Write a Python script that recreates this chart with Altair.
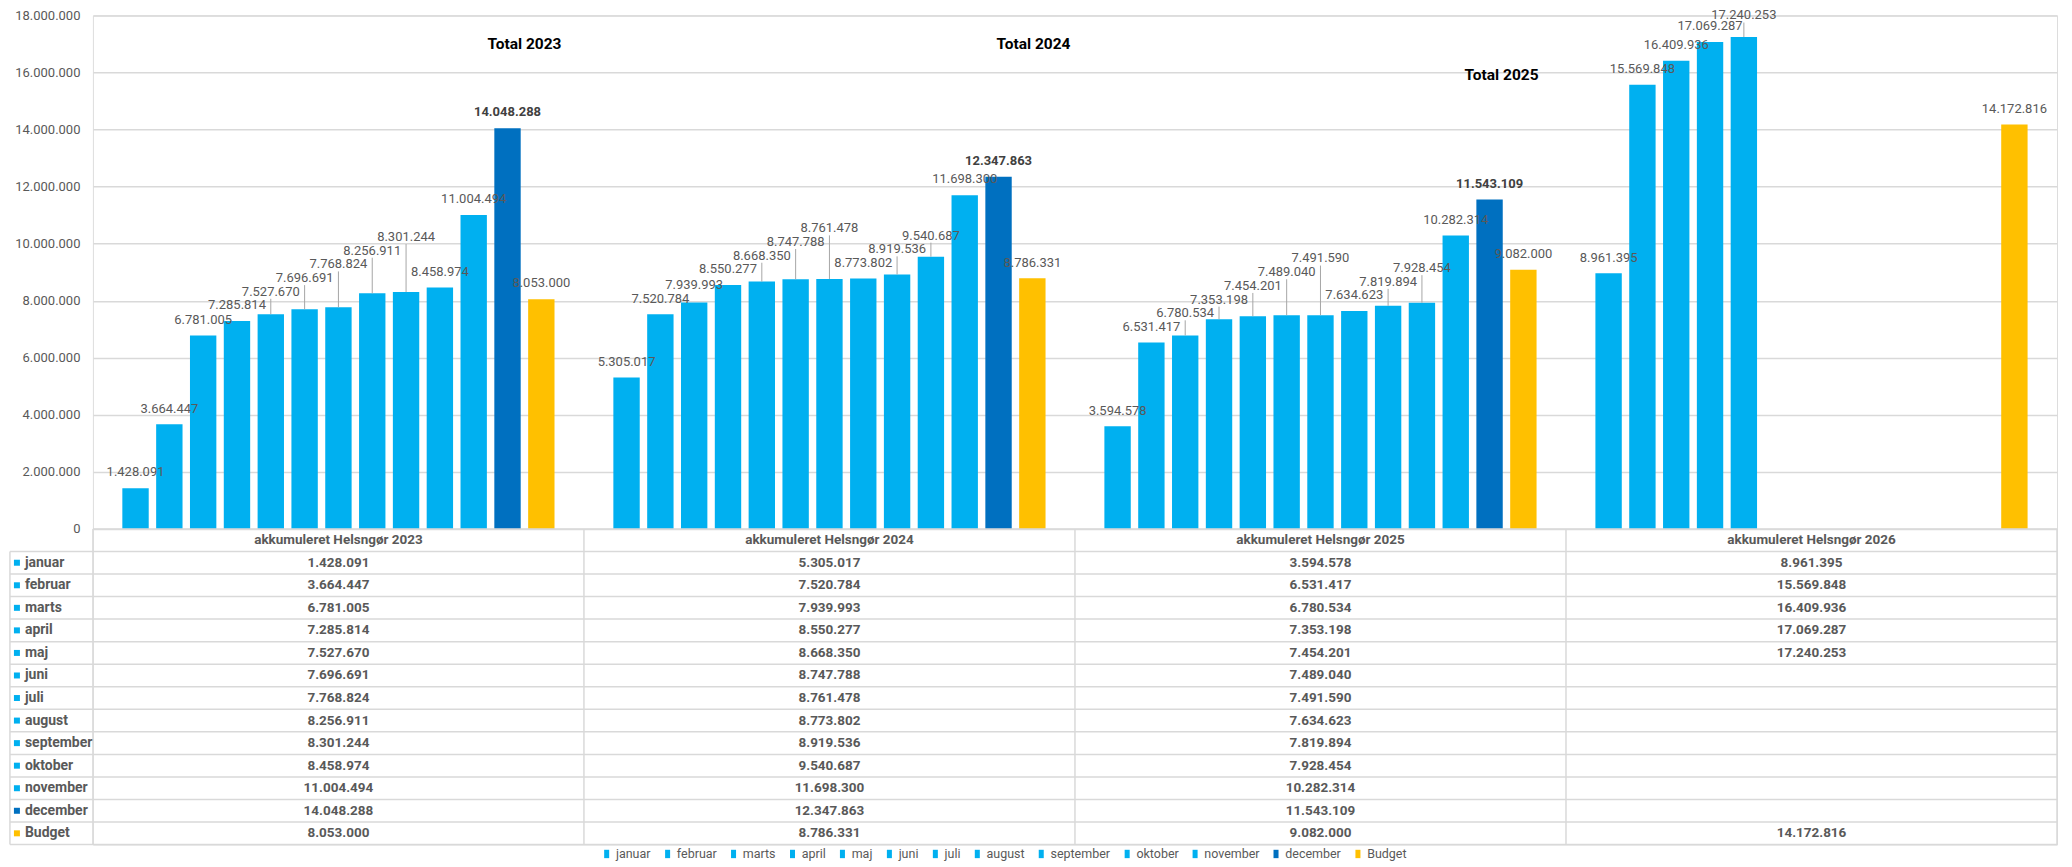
import altair as alt
import pandas as pd

# ---------------- data ----------------
series = ["januar", "februar", "marts", "april", "maj", "juni", "juli",
          "august", "september", "oktober", "november", "december", "Budget"]
series_colors = ["#00B0F0"] * 11 + ["#0070C0", "#FFC000"]
groups = ["akkumuleret Helsngør 2023", "akkumuleret Helsngør 2024",
          "akkumuleret Helsngør 2025", "akkumuleret Helsngør 2026"]

values_2023 = [1428091, 3664447, 6781005, 7285814, 7527670, 7696691, 7768824,
               8256911, 8301244, 8458974, 11004494, 14048288, 8053000]
values_2024 = [5305017, 7520784, 7939993, 8550277, 8668350, 8747788, 8761478,
               8773802, 8919536, 9540687, 11698300, 12347863, 8786331]
values_2025 = [3594578, 6531417, 6780534, 7353198, 7454201, 7489040, 7491590,
               7634623, 7819894, 7928454, 10282314, 11543109, 9082000]
values_2026 = [8961395, 15569848, 16409936, 17069287, 17240253, None, None,
               None, None, None, None, None, 14172816]
all_values = [values_2023, values_2024, values_2025, values_2026]

y_ticks = [0, 2000000, 4000000, 6000000, 8000000, 10000000, 12000000,
           14000000, 16000000, 18000000]

total_titles = ["Total 2023", "Total 2024", "Total 2025"]
total_groups = groups[:3]
total_levels = [17000000, 17000000, 15900000]

# ---------------- styling constants ----------------
FONT = "Roboto"
TXT = "#595959"
GRID = "#D9D9D9"
M = 1_000_000
LABEL_GAP = 0.55 * M
STEP = 0.48 * M
LABEL_MAX = 18.0 * M   # keep labels inside the chart's top edge
LABEL_COL = -0.169     # left edge of the row-label column (in table column units)
W = 1966
H_TOP = 514
H_TAB = 316


def fmt(v):
    return f"{v:,}".replace(",", ".")


# bar rows with simple label collision handling
rows = []
for g, vals in zip(groups, all_values):
    prev = None
    for s, v in zip(series, vals):
        if v is None:
            continue
        nat = v + LABEL_GAP
        pos = nat
        if prev is not None and prev - 2 * STEP < nat < prev + STEP:
            pos = prev + STEP
        pos = min(pos, LABEL_MAX)
        prev = pos
        rows.append(dict(group=g, series=s, value=v, label=fmt(v),
                         label_y=pos, line_top=pos - 0.25 * M,
                         leader=bool(pos - nat > 0.1 * M),
                         bold=(s == "december")))
df = pd.DataFrame(rows)

x_enc = alt.X("group:N", sort=groups, axis=None,
              scale=alt.Scale(domain=groups, paddingInner=0, paddingOuter=0))
xo_enc = alt.XOffset("series:N", sort=series,
                     scale=alt.Scale(domain=series, paddingInner=0.22, paddingOuter=0.87))
y_scale = alt.Scale(domain=[0, 18 * M], nice=False, zero=True)

color_enc = alt.Color(
    "series:N", sort=series,
    scale=alt.Scale(domain=series, range=series_colors),
    legend=alt.Legend(
        title=None, orient="none", legendX=508, legendY=H_TOP + H_TAB + 3,
        direction="horizontal", columns=13,
        symbolType="M-0.6,-1L0.6,-1L0.6,1L-0.6,1Z", symbolSize=70,
        symbolStrokeWidth=0, labelFont=FONT, labelFontSize=12.5, labelColor=TXT,
        columnPadding=10, labelOffset=3, padding=0,
    ),
)

base = alt.Chart(df)

bars = base.mark_bar().encode(
    x=x_enc, xOffset=xo_enc,
    y=alt.Y("value:Q", scale=y_scale, title=None,
            axis=alt.Axis(values=y_ticks, domain=False, ticks=False, grid=True,
                          gridColor=GRID, gridWidth=1.5,
                          labelExpr="join(split(format(datum.value, ','), ','), '.')",
                          labelFont=FONT, labelFontSize=13, labelColor=TXT,
                          labelPadding=13)),
    color=color_enc,
)

leaders = base.transform_filter("datum.leader").mark_rule(
    color="#A6A6A6", strokeWidth=1
).encode(x=x_enc, xOffset=xo_enc, y=alt.Y("value:Q", scale=y_scale),
         y2="line_top:Q")

labels = base.transform_filter("!datum.bold").mark_text(
    font=FONT, fontSize=13, color=TXT, baseline="middle"
).encode(x=x_enc, xOffset=xo_enc, y=alt.Y("label_y:Q", scale=y_scale), text="label:N")

labels_bold = base.transform_filter("datum.bold").mark_text(
    font=FONT, fontSize=13, fontWeight="bold", color="#404040", baseline="middle"
).encode(x=x_enc, xOffset=xo_enc, y=alt.Y("label_y:Q", scale=y_scale), text="label:N")

title_layers = []
title_dx = [17, 35, 12]
for t, g, lv, dx in zip(total_titles, total_groups, total_levels, title_dx):
    tdf = pd.DataFrame([dict(group=g, series="december", level=lv, text=t)])
    title_layers.append(
        alt.Chart(tdf).mark_text(font=FONT, fontSize=15.5, fontWeight="bold",
                                 color="#000000", dx=dx, baseline="middle")
        .encode(x=x_enc, xOffset=xo_enc, y=alt.Y("level:Q", scale=y_scale), text="text:N")
    )

top = alt.layer(bars, leaders, labels, labels_bold, *title_layers).properties(
    width=W, height=H_TOP)

# ---------------- data table ----------------
tx = alt.Scale(domain=[0, 4], nice=False, zero=False)
ty = alt.Scale(domain=[0, 14], nice=False, zero=False, reverse=True)
n_rows = len(series)

hlines = [dict(x=0, x2=4, y=0)] + [dict(x=LABEL_COL, x2=4, y=i + 1) for i in range(n_rows + 1)]
vlines = [dict(x=LABEL_COL, y=1, y2=n_rows + 1)] + [dict(x=c, y=0, y2=n_rows + 1) for c in range(5)]

header_rows = [dict(x=i + 0.5, y=0.5, text=g) for i, g in enumerate(groups)]
cell_rows = []
for gi, vals in enumerate(all_values):
    for ri, v in enumerate(vals):
        if v is not None:
            cell_rows.append(dict(x=gi + 0.5, y=ri + 1.5, text=fmt(v)))
label_rows = [dict(x=LABEL_COL, y=ri + 1.5, series=s) for ri, s in enumerate(series)]

X_T = alt.X("x:Q", scale=tx, axis=None)
Y_T = alt.Y("y:Q", scale=ty, axis=None)

hl = alt.Chart(pd.DataFrame(hlines)).mark_rule(color=GRID, strokeWidth=1.5).encode(
    x=X_T, x2="x2:Q", y=Y_T)
vl = alt.Chart(pd.DataFrame(vlines)).mark_rule(color=GRID, strokeWidth=1.5).encode(
    x=X_T, y=Y_T, y2="y2:Q")
head = alt.Chart(pd.DataFrame(header_rows)).mark_text(
    font=FONT, fontSize=13.5, fontWeight="bold", color=TXT, baseline="middle").encode(
    x=X_T, y=Y_T, text="text:N")
cells = alt.Chart(pd.DataFrame(cell_rows)).mark_text(
    font=FONT, fontSize=13.5, fontWeight="bold", color=TXT, baseline="middle").encode(
    x=X_T, y=Y_T, text="text:N")
rlabels = alt.Chart(pd.DataFrame(label_rows)).mark_text(
    font=FONT, fontSize=14, fontWeight="bold", color=TXT, baseline="middle",
    align="left", dx=15).encode(x=X_T, y=Y_T, text="series:N")
squares = alt.Chart(pd.DataFrame(label_rows)).mark_square(
    size=36, opacity=1, xOffset=7).encode(
    x=X_T, y=Y_T,
    color=alt.Color("series:N", sort=series,
                    scale=alt.Scale(domain=series, range=series_colors), legend=None))

table = alt.layer(hl, vl, head, cells, rlabels, squares).properties(width=W, height=H_TAB)

chart = alt.vconcat(top, table, spacing=0, bounds="flush").properties(
    padding={"left": 0, "top": 0, "right": 5, "bottom": 0}
).configure_view(stroke=None).configure(background="white")

chart.save("out.html", embed_options={"renderer": "svg", "actions": False})
